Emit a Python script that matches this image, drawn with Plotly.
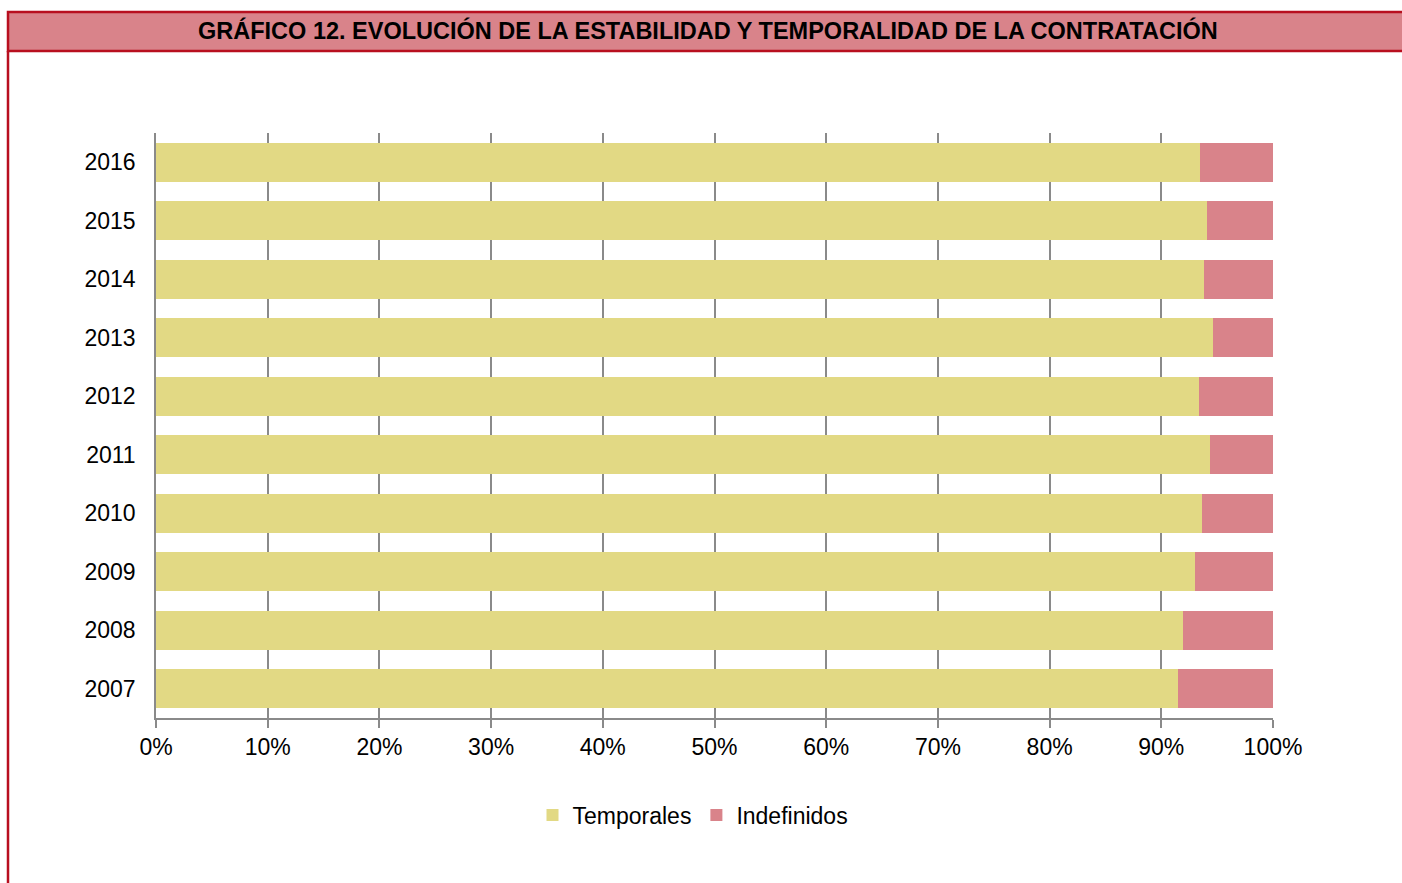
import plotly.graph_objects as go

years = ["2007", "2008", "2009", "2010", "2011", "2012", "2013", "2014", "2015", "2016"]
temporales = [0.915, 0.919, 0.930, 0.936, 0.944, 0.934, 0.946, 0.938, 0.941, 0.935]
indefinidos = [round(1 - t, 3) for t in temporales]
x_ticks = [0, 0.1, 0.2, 0.3, 0.4, 0.5, 0.6, 0.7, 0.8, 0.9, 1.0]
title_text = "GRÁFICO 12. EVOLUCIÓN DE LA ESTABILIDAD Y TEMPORALIDAD DE LA CONTRATACIÓN"

YELLOW = "#E2D984"
PINK = "#D9838A"
DARKRED = "#B80F1F"
GRID = "#8A8A8A"
FONT = "Liberation Sans, Arial, sans-serif"

FW, FH = 1402, 883
L, R, T, B = 156, 1273, 133, 718
W, H = R - L, B - T
px = lambda x: (x - L) / W
py = lambda y: (B - y) / H

fig = go.Figure()
fig.add_trace(go.Bar(y=years, x=temporales, name="Temporales", orientation="h",
                     marker=dict(color=YELLOW, line=dict(width=0))))
fig.add_trace(go.Bar(y=years, x=indefinidos, name="Indefinidos", orientation="h",
                     marker=dict(color=PINK, line=dict(width=0))))

fig.update_layout(
    barmode="stack",
    bargap=0.33,
    width=FW, height=FH,
    margin=dict(l=L, r=FW - R, t=T, b=FH - B, autoexpand=False),
    paper_bgcolor="white", plot_bgcolor="white",
    font=dict(family=FONT, size=23, color="black"),
    showlegend=True,
    legend=dict(orientation="h", x=px(693), xanchor="center", y=py(815), yanchor="middle",
                font=dict(size=23), traceorder="normal", itemwidth=30,
                itemsizing="constant"),
    xaxis=dict(range=[0, 1], tickvals=x_ticks, tickformat=".0%", showgrid=True,
               gridcolor=GRID, gridwidth=1.5, showline=True, linecolor=GRID, linewidth=1.5,
               ticks="outside", ticklen=8, tickcolor=GRID, tickwidth=1.5, zeroline=False,
               fixedrange=True),
    yaxis=dict(showline=True, linecolor=GRID, linewidth=1.5, showgrid=False, ticks="",
               ticklabelstandoff=14, zeroline=False),
    shapes=[
        dict(type="rect", xref="paper", yref="paper", x0=px(8), x1=px(1412), y0=py(51), y1=py(12),
             fillcolor=PINK, line=dict(color=DARKRED, width=2.5), layer="above"),
        dict(type="line", xref="paper", yref="paper", x0=px(8), x1=px(8), y0=py(51), y1=py(900),
             line=dict(color=DARKRED, width=2.5)),
    ],
    annotations=[
        dict(text="<b>" + title_text + "</b>", xref="paper", yref="paper", x=px(708), y=py(31),
             xanchor="center", yanchor="middle", showarrow=False,
             font=dict(family=FONT, size=23.5, color="black")),
    ],
)

fig.write_html("out.html", config={"displayModeBar": False},
               post_script="document.body.style.margin='0';document.body.style.overflow='hidden';")
